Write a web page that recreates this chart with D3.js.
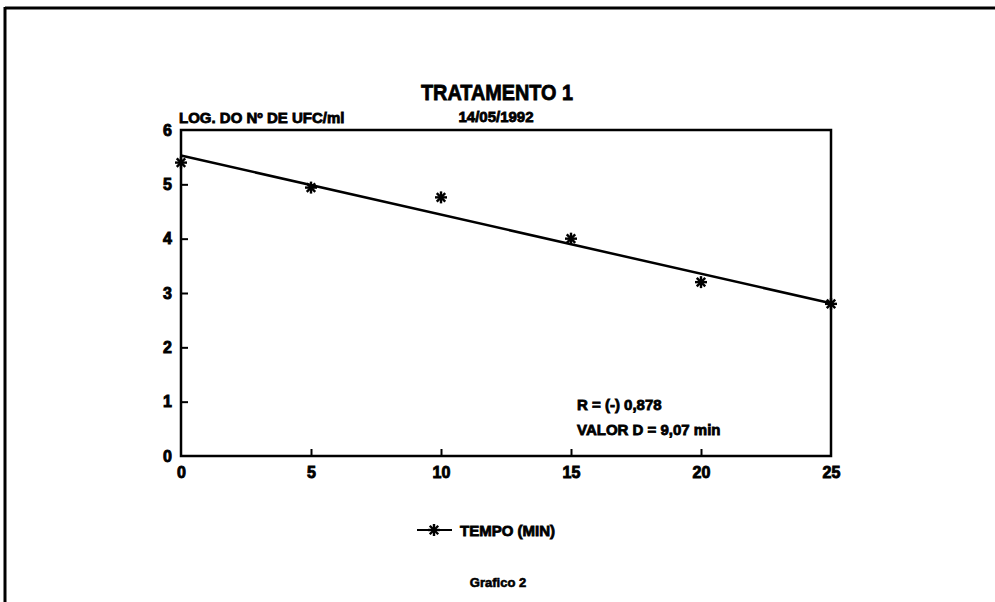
<!DOCTYPE html>
<html>
<head>
<meta charset="utf-8">
<script src="https://cdn.jsdelivr.net/npm/d3@7"></script>
<style>
  body { margin: 0; background: #fff; }
  text { font-family: "Liberation Sans", Arial, sans-serif; font-weight: bold; fill: #000; }
</style>
</head>
<body>
<script>
// data
var tempo = [0, 5, 10, 15, 20, 25];
var logUfc = [5.40, 4.94, 4.76, 4.00, 3.20, 2.80];
var fitX = [0, 25];
var fitY = [5.53, 2.81];
var xTicks = [0, 5, 10, 15, 20, 25];
var yTicks = [0, 1, 2, 3, 4, 5, 6];
var statLines = ["R = (-) 0,878", "VALOR D = 9,07 min"];

var width = 995, height = 602;
var svg = d3.select("body").append("svg")
    .attr("width", width)
    .attr("height", height);

// outer frame (top + left only, like the scan)
svg.append("line").attr("x1", 5).attr("x2", width).attr("y1", 8).attr("y2", 8)
    .style("stroke", "#000").style("stroke-width", 3);
svg.append("line").attr("x1", 5).attr("x2", 5).attr("y1", 7).attr("y2", height)
    .style("stroke", "#000").style("stroke-width", 3);

var x = d3.scaleLinear().domain([0, 25]).range([181, 831]);
var y = d3.scaleLinear().domain([0, 6]).range([456, 130]);

// plot box
svg.append("rect")
    .attr("x", x(0)).attr("y", y(6))
    .attr("width", x(25) - x(0)).attr("height", y(0) - y(6))
    .style("fill", "none").style("stroke", "#000").style("stroke-width", 2.5);

// axes with inward ticks
var xAxis = svg.append("g").attr("transform", "translate(0," + y(0) + ")")
    .call(d3.axisBottom(x).tickValues(xTicks).tickFormat(d3.format("d")).tickSize(-7).tickPadding(11));
var yAxis = svg.append("g").attr("transform", "translate(" + x(0) + ",0)")
    .call(d3.axisLeft(y).tickValues(yTicks).tickFormat(d3.format("d")).tickSize(-7).tickPadding(9));

[xAxis, yAxis].forEach(function(g) {
  g.select(".domain").remove();
  g.selectAll(".tick line").style("stroke", "#000").style("stroke-width", 2);
  g.selectAll(".tick text")
      .style("font-size", "16px")
      .style("font-family", "'Liberation Sans', Arial, sans-serif")
      .style("font-weight", "bold")
      .style("stroke", "#000").style("stroke-width", 0.9);
});
xAxis.selectAll(".tick text").attr("dy", "0.71em");
// the end ticks sit on the frame, hide them
xAxis.selectAll(".tick line").filter(function(d) { return d === 0 || d === 25; }).remove();
yAxis.selectAll(".tick line").filter(function(d) { return d === 0 || d === 6; }).remove();

// regression line
svg.append("line")
    .attr("x1", x(fitX[0])).attr("y1", y(fitY[0]))
    .attr("x2", x(fitX[1])).attr("y2", y(fitY[1]))
    .style("stroke", "#000").style("stroke-width", 2.5);

// asterisk markers
function star(g, cx, cy, r) {
  for (var i = 0; i < 4; i++) {
    var a = i * Math.PI / 4;
    g.append("line")
        .attr("x1", cx - r * Math.cos(a)).attr("y1", cy - r * Math.sin(a))
        .attr("x2", cx + r * Math.cos(a)).attr("y2", cy + r * Math.sin(a))
        .style("stroke", "#000").style("stroke-width", 2.4);
  }
}
var pts = svg.append("g");
tempo.forEach(function(t, i) { star(pts, x(t), y(logUfc[i]), 6); });

// titles
svg.append("text").attr("x", 497).attr("y", 100).attr("text-anchor", "middle")
    .style("font-size", "22px").style("stroke", "#000").style("stroke-width", 0.8)
    .attr("textLength", 152).attr("lengthAdjust", "spacingAndGlyphs")
    .text("TRATAMENTO 1");
svg.append("text").attr("x", 496).attr("y", 122).attr("text-anchor", "middle")
    .style("font-size", "15px").style("stroke", "#000").style("stroke-width", 0.8)
    .text("14/05/1992");
svg.append("text").attr("x", 179).attr("y", 123)
    .style("font-size", "15px").style("stroke", "#000").style("stroke-width", 0.8)
    .text("LOG. DO N\u00ba DE UFC/ml");

// stats box text
svg.selectAll(".stat").data(statLines).enter().append("text")
    .attr("class", "stat")
    .attr("x", 577).attr("y", function(d, i) { return 410 + i * 25; })
    .style("font-size", "15px").style("stroke", "#000").style("stroke-width", 0.8)
    .text(function(d) { return d; });

// legend
var lg = svg.append("g");
lg.append("line").attr("x1", 417).attr("x2", 452).attr("y1", 530).attr("y2", 530)
    .style("stroke", "#000").style("stroke-width", 2.2);
star(lg, 434, 530, 6);
lg.append("text").attr("x", 460).attr("y", 536)
    .style("font-size", "15px").style("stroke", "#000").style("stroke-width", 0.8)
    .text("TEMPO (MIN)");

svg.append("text").attr("x", 498).attr("y", 587).attr("text-anchor", "middle")
    .style("font-size", "13px").style("stroke", "#000").style("stroke-width", 0.6)
    .text("Grafico 2");
</script>
</body>
</html>
